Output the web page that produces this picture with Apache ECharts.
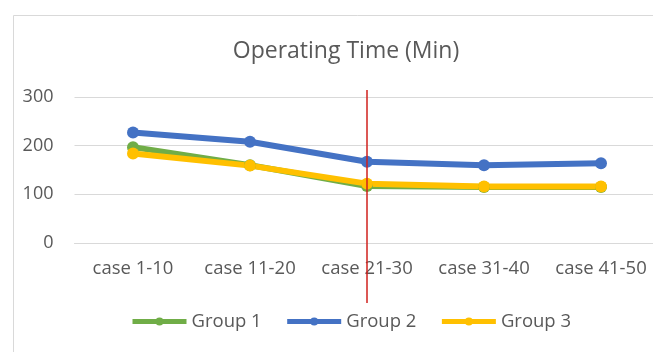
<!DOCTYPE html>
<html>
<head>
<meta charset="utf-8">
<script src="https://cdn.jsdelivr.net/npm/echarts@6/dist/echarts.min.js"></script>
<style>
  html, body { margin: 0; padding: 0; background: #fff; overflow: hidden; }
  /* the plot runs on past the right edge of the window */
  #chart { width: 700px; height: 352px; }
</style>
</head>
<body>
<div id="chart"></div>
<script>
// Operating time per block of ten cases, three surgical groups
const categories = ['case 1-10', 'case 11-20', 'case 21-30', 'case 31-40', 'case 41-50'];
const group1 = [197, 160, 117, 115, 115];
const group2 = [227, 208, 167, 160, 164];
const group3 = [184, 159, 122, 116, 116];
const yTicks = { min: 0, max: 300, interval: 100 };
const dividerCategory = 'case 21-30';

const FONT = '"Open Sans", "Noto Sans", sans-serif';
const TEXT = '#595959';

function lineSeries(name, data, color) {
  return {
    name: name,
    type: 'line',
    data: data,
    xAxisIndex: 0,
    yAxisIndex: 0,
    symbol: 'circle',
    symbolSize: 12,
    lineStyle: { width: 6, color: color },
    itemStyle: { color: color },
    z: 3
  };
}

const chart = echarts.init(document.getElementById('chart'), null, { renderer: 'canvas' });
chart.setOption({
  animation: false,
  backgroundColor: '#fff',
  textStyle: { fontFamily: FONT },
  graphic: [{
    type: 'rect',
    left: 11, top: 13,
    shape: { width: 720, height: 420 },
    style: { fill: 'none', stroke: '#d9d9d9', lineWidth: 1 },
    silent: true,
    z: -1
  }],
  title: {
    text: 'Operating Time (Min)',
    left: 341,
    textAlign: 'center',
    top: 35,
    textStyle: { fontFamily: FONT, fontSize: 23, fontWeight: 'normal', color: TEXT }
  },
  legend: {
    left: 125,
    top: 307,
    itemWidth: 54,
    itemHeight: 10,
    itemGap: 23,
    lineStyle: { width: 5 },
    textStyle: { fontFamily: FONT, fontSize: 18.5, color: TEXT },
    data: ['Group 1', 'Group 2', 'Group 3']
  },
  grid: [
    { left: 74.5, top: 97, width: 585, height: 146, containLabel: false },
    { left: 74.5, top: 90, width: 585, height: 213, containLabel: false }
  ],
  xAxis: [{
    type: 'category',
    gridIndex: 0,
    data: categories,
    boundaryGap: true,
    axisLine: { show: true, lineStyle: { color: '#d9d9d9', width: 1 } },
    axisTick: { show: false },
    axisLabel: { interval: 0, margin: 16, fontFamily: FONT, fontSize: 18.5, color: TEXT }
  }, {
    type: 'category',
    gridIndex: 1,
    data: categories,
    boundaryGap: true,
    show: false
  }],
  yAxis: [{
    type: 'value',
    gridIndex: 0,
    min: yTicks.min,
    max: yTicks.max,
    interval: yTicks.interval,
    axisLine: { show: false },
    axisTick: { show: false },
    splitLine: { lineStyle: { color: '#d9d9d9', width: 1 } },
    axisLabel: { margin: 21, fontFamily: FONT, fontSize: 18, color: TEXT }
  }, {
    type: 'value',
    gridIndex: 1,
    min: 0,
    max: 1,
    show: false
  }],
  series: [
    lineSeries('Group 1', group1, '#70AD47'),
    lineSeries('Group 2', group2, '#4472C4'),
    lineSeries('Group 3', group3, '#FFC000'),
    {
      name: 'divider',
      type: 'line',
      xAxisIndex: 1,
      yAxisIndex: 1,
      data: [],
      z: 10,
      markLine: {
        silent: true,
        symbol: ['none', 'none'],
        label: { show: false },
        lineStyle: { type: 'solid', color: '#d0201c', width: 1.5 },
        data: [{ xAxis: dividerCategory }]
      }
    }
  ]
});
</script>
</body>
</html>
